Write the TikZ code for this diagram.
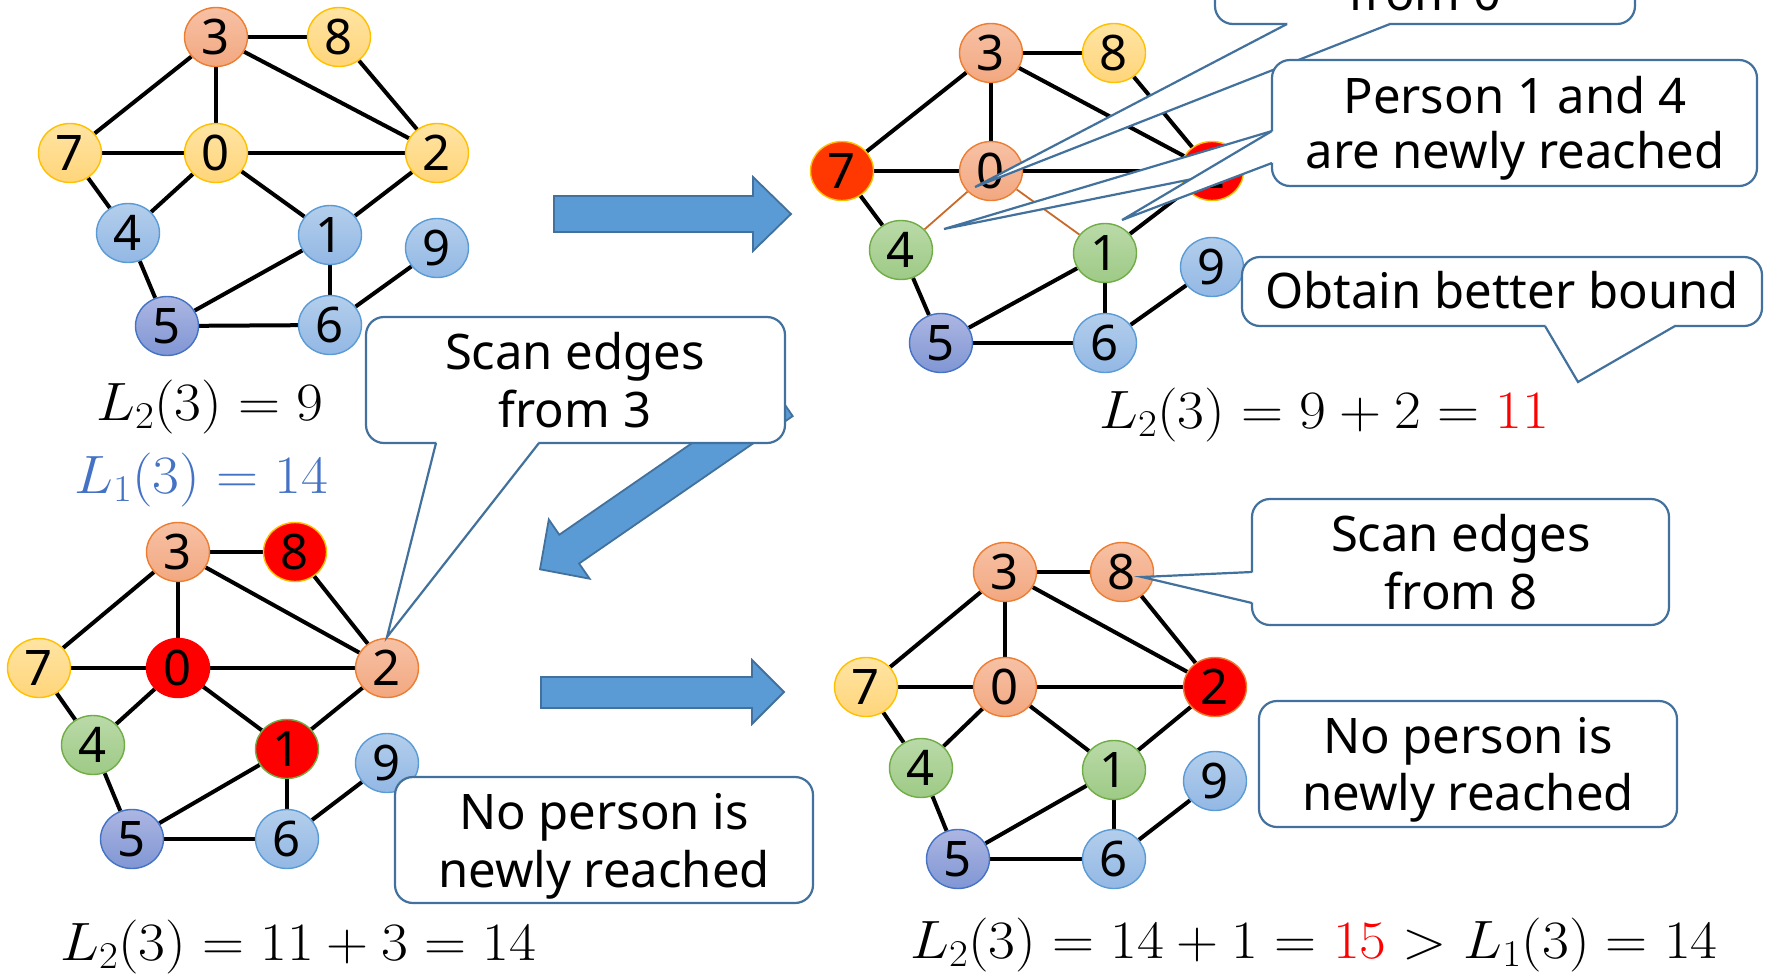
\RequirePackage{fix-cm}
\documentclass[tikz,border=0pt]{standalone}
\usepackage[no-math]{fontspec}
\newfontfamily\labelfont{Noto Sans}
\usetikzlibrary{shapes.geometric}

\pgfdeclarelayer{edgelayer}
\pgfsetlayers{edgelayer,main}

% vertex palettes (light top / darker bottom / outline)
\definecolor{salmonA}{RGB}{247,193,165}\definecolor{salmonB}{RGB}{242,168,128}\definecolor{salmonD}{RGB}{237,125,49}
\definecolor{goldA}{RGB}{255,228,163}\definecolor{goldB}{RGB}{255,213,122}\definecolor{goldD}{RGB}{255,192,0}
\definecolor{skyA}{RGB}{180,206,236}\definecolor{skyB}{RGB}{146,184,228}\definecolor{skyD}{RGB}{91,155,213}
\definecolor{slateA}{RGB}{172,182,226}\definecolor{slateB}{RGB}{128,150,212}\definecolor{slateD}{RGB}{68,114,196}
\definecolor{leafA}{RGB}{186,218,168}\definecolor{leafB}{RGB}{158,202,134}\definecolor{leafD}{RGB}{112,173,71}
\definecolor{flame}{RGB}{255,55,0}
\definecolor{bubbleline}{RGB}{65,113,156}
\definecolor{arrowfill}{RGB}{91,155,213}
\definecolor{arrowline}{RGB}{65,113,156}
\definecolor{boundblue}{RGB}{68,114,196}

\tikzset{
  vtx/.style={ellipse, minimum width=63pt, minimum height=59pt, inner sep=0pt,
    line width=1.4pt, font=\labelfont\fontsize{49}{49}\selectfont},
  gold/.style={vtx, draw=goldD, top color=goldA, bottom color=goldB},
  salmon/.style={vtx, draw=salmonD, top color=salmonA, bottom color=salmonB},
  sky/.style={vtx, draw=skyD, top color=skyA, bottom color=skyB},
  slate/.style={vtx, draw=slateD, top color=slateA, bottom color=slateB},
  leaf/.style={vtx, draw=leafD, top color=leafA, bottom color=leafB},
  hot/.style={vtx, draw=#1, fill=red},
  hot/.default=goldD,
  flamev/.style={vtx, draw=goldD, fill=flame},
  link/.style={line width=4pt, black},
  scanned/.style={line width=1.8pt, color=salmonD!85!black},
  bubble/.style={draw=bubbleline, line width=2.2pt, fill=white, rounded corners=18pt},
  bubble line/.style={draw=bubbleline, line width=2.2pt, line join=miter},
  txt/.style={font=\labelfont\fontsize{49}{58}\selectfont, anchor=base, inner sep=0pt},
  eq/.style={font=\fontsize{54}{60}\selectfont, anchor=base west, inner sep=0pt},
  blockarrow/.style={fill=arrowfill, draw=arrowline, line width=1.8pt, line join=miter},
}

% formulas are set slightly wide
\newcommand\wideeq[1]{\scalebox{1.08}[1]{$#1$}}

% callout pointer: #1 and #5 lie just inside the box, #2/#4 on its border, #3 is the tip
\newcommand\pointer[5]{%
  \fill[white] #1 -- #2 -- #3 -- #4 -- #5 -- cycle;
  \draw[bubble line] #2 -- #3 -- #4;}

\begin{document}
\begin{tikzpicture}[x=1pt, y=-1pt]
\useasboundingbox (0,0) rectangle (1765,975);
\clip (0,0) rectangle (1765,975);

% ---------------- graph A (start) ----------------
\node[salmon] (a3) at (216,37) {3};
\node[gold]   (a8) at (339,37) {8};
\node[gold]   (a7) at (70,153) {7};
\node[gold]   (a0) at (216,153) {0};
\node[gold]   (a2) at (437,153) {2};
\node[sky]    (a4) at (128,233) {4};
\node[sky]    (a1) at (330,235) {1};
\node[sky]    (a9) at (437,248) {9};
\node[slate]  (a5) at (167,326) {5};
\node[sky]    (a6) at (330,325) {6};

% ---------------- graph B (scan from 0) ----------------
\node[salmon] (b3) at (991,53) {3};
\node[gold]   (b8) at (1114,53) {8};
\node[flamev] (b7) at (842,171) {7};
\node[salmon] (b0) at (991,171) {0};
\node[hot]    (b2) at (1212,171) {2};
\node[leaf]   (b4) at (901,250) {4};
\node[leaf]   (b1) at (1105,253) {1};
\node[sky]    (b9) at (1212,267) {9};
\node[slate]  (b5) at (941,343) {5};
\node[sky]    (b6) at (1105,343) {6};

% ---------------- graph C (scan from 3) ----------------
\node[salmon]      (c3) at (178,552) {3};
\node[hot]         (c8) at (295,552) {8};
\node[gold]        (c7) at (39,668) {7};
\node[hot=red]     (c0) at (178,668) {0};
\node[salmon]      (c2) at (387,668) {2};
\node[leaf]        (c4) at (93,745) {4};
\node[hot=leafD]   (c1) at (287,749) {1};
\node[sky]         (c9) at (387,763) {9};
\node[slate]       (c5) at (132,839) {5};
\node[sky]         (c6) at (287,839) {6};

% ---------------- graph D (scan from 8) ----------------
\node[salmon]       (d3) at (1005,572) {3};
\node[salmon]       (d8) at (1122,572) {8};
\node[gold]         (d7) at (866,687) {7};
\node[salmon]       (d0) at (1005,687) {0};
\node[hot=salmonD]  (d2) at (1215,687) {2};
\node[leaf]         (d4) at (921,768) {4};
\node[leaf]         (d1) at (1114,770) {1};
\node[sky]          (d9) at (1215,781) {9};
\node[slate]        (d5) at (958,859) {5};
\node[sky]          (d6) at (1114,859) {6};

% edges, behind the vertices
\begin{pgfonlayer}{edgelayer}
  \foreach \p in {a,c,d}
    \foreach \u/\v in {3/8,3/7,3/0,3/2,8/2,7/0,0/2,7/4,0/4,0/1,2/1,4/5,1/5,1/6,5/6,6/9}
      \draw[link] (\p\u) -- (\p\v);
  \foreach \u/\v in {3/8,3/7,3/0,3/2,8/2,7/0,0/2,7/4,2/1,4/5,1/5,1/6,5/6,6/9}
    \draw[link] (b\u) -- (b\v);
  \draw[scanned] (b0) -- (b4);
  \draw[scanned] (b0) -- (b1);
\end{pgfonlayer}

% ---------------- bound formulas ----------------
\node[eq] (e1) at (96,420) {\wideeq{L_2(3) = 9}};
\node[eq, text=boundblue] (e1b) at (74,493) {\wideeq{L_1(3) = 14}};
\node[eq] (e2) at (1099,428) {\wideeq{L_2(3) = 9 + 2 = {\color{red}11}}};
\node[eq] (e3) at (60,960) {\wideeq{L_2(3) = 11 + 3 = 14}};
\node[eq] (e4) at (910,958) {\wideeq{L_2(3) = 14 + 1 = {\color{red}15} > L_1(3) = 14}};

% ---------------- block arrows ----------------
\path[blockarrow] (554,196) -- (753,196) -- (753,177) -- (791,214) -- (753,251) -- (753,232) -- (554,232) -- cycle;
\path[blockarrow] (541,677) -- (752,677) -- (752,660) -- (784,692) -- (752,724) -- (752,708) -- (541,708) -- cycle;
\path[blockarrow] (540,569.3) -- (548.8,519.5) -- (559.3,534.7) -- (772.9,387.3) -- (792.7,416.1) -- (579.1,563.5) -- (589.6,578.7) -- cycle;

% ---------------- callouts ----------------
% scan from 0
\path[bubble] (1215,-100) rectangle (1635,24);
\coordinate (tip0) at (975,187);
\pointer{(1290,20)}{(1287,24)}{(tip0)}{(1390,24)}{(1386,20)}
\node[txt] (t0b) at (1425,10) {from 0};

% persons 1 and 4 reached
\path[bubble] (1272,60) rectangle (1757,186);
\coordinate (tip4) at (944,229);
\coordinate (tip1) at (1122,220);
\pointer{(1276,134)}{(1272,131)}{(tip4)}{(1272,163)}{(1276,160)}
\pointer{(1276,134)}{(1272,131)}{(tip1)}{(1272,163)}{(1276,160)}
\node[txt] (tpa) at (1515,113) {Person 1 and 4};
\node[txt] (tpb) at (1515,168) {are newly reached};

% better bound
\path[bubble] (1242,257) rectangle (1762,326);
\coordinate (tipB) at (1578,382);
\pointer{(1548,322)}{(1545,326)}{(tipB)}{(1675,326)}{(1671,322)}
\node[txt] (tob) at (1502,308) {Obtain better bound};

% scan from 3
\path[bubble] (366,317) rectangle (785,443);
\coordinate (tip3) at (387,637);
\pointer{(439,439)}{(436,443)}{(tip3)}{(539,443)}{(535,439)}
\node[txt] (t3a) at (575,369) {Scan edges};
\node[txt] (t3b) at (575,427) {from 3};

% nobody new (graph C)
\path[bubble] (395,777) rectangle (813,903);
\node[txt] (tna) at (604,829) {No person is};
\node[txt] (tnb) at (604,887) {newly reached};

% scan from 8
\path[bubble] (1252,499) rectangle (1669,625);
\coordinate (tip8) at (1142,577);
\pointer{(1256,575)}{(1252,572)}{(tip8)}{(1252,603)}{(1256,600)}
\node[txt] (t8a) at (1461,551) {Scan edges};
\node[txt] (t8b) at (1461,609) {from 8};

% nobody new (graph D)
\path[bubble] (1259,701) rectangle (1677,827);
\node[txt] (tma) at (1468,753) {No person is};
\node[txt] (tmb) at (1468,810) {newly reached};
\end{tikzpicture}
\end{document}
